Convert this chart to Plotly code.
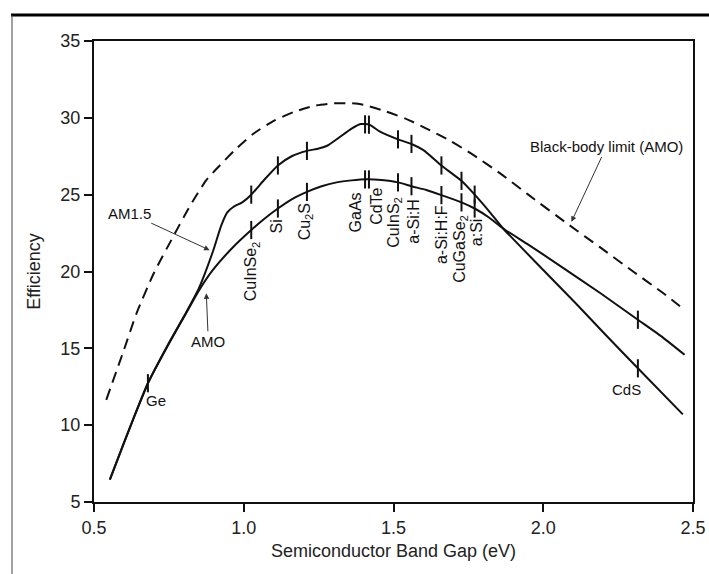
import numpy as np
import plotly.graph_objects as go

# Efficiency vs. band gap, AM1.5 spectrum
am15_gap = [0.553, 0.60, 0.63, 0.68, 0.75, 0.808, 0.85, 0.897, 0.925, 0.945, 0.965,
            0.995, 1.025, 1.07, 1.114, 1.16, 1.211, 1.25, 1.28, 1.36, 1.39, 1.42,
            1.455, 1.515, 1.56, 1.60, 1.66, 1.727, 1.771, 1.82, 1.866, 2.0, 2.11,
            2.2, 2.316, 2.466]
am15_eff = [6.45, 8.85, 10.35, 12.73, 15.35, 17.35, 18.9, 21.3, 23.0, 23.85, 24.2,
            24.5, 25.0, 26.0, 26.9, 27.5, 27.85, 28.0, 28.2, 29.3, 29.6, 29.55,
            29.1, 28.6, 28.3, 27.9, 26.9, 25.9, 25.0, 23.9, 22.8, 20.1, 17.9,
            16.05, 13.7, 10.7]

# Efficiency vs. band gap, AM0 spectrum
am0_gap = [0.553, 0.60, 0.63, 0.68, 0.75, 0.808, 0.85, 0.897, 0.96, 1.025, 1.07,
           1.114, 1.16, 1.211, 1.26, 1.31, 1.36, 1.41, 1.46, 1.515, 1.56, 1.61,
           1.66, 1.727, 1.771, 1.82, 1.866, 1.95, 2.05, 2.19, 2.316, 2.40, 2.472]
am0_eff = [6.45, 8.85, 10.35, 12.73, 15.3, 17.3, 18.75, 20.1, 21.5, 22.7, 23.45,
           24.1, 24.7, 25.18, 25.55, 25.8, 25.93, 26.0, 25.95, 25.8, 25.55, 25.3,
           24.97, 24.5, 24.1, 23.5, 22.8, 21.75, 20.45, 18.6, 16.86, 15.7, 14.58]

# Black-body limit (AM0)
bb_gap = [0.541, 0.60, 0.642, 0.70, 0.764, 0.82, 0.875, 0.92, 0.97, 1.031, 1.10,
          1.17, 1.24, 1.30, 1.36, 1.40, 1.47, 1.54, 1.61, 1.69, 1.765, 1.855,
          1.95, 2.088, 2.188, 2.30, 2.40, 2.472]
bb_eff = [11.65, 14.9, 17.28, 19.9, 22.26, 24.25, 25.94, 26.9, 27.9, 28.95, 29.8,
          30.4, 30.8, 30.94, 30.95, 30.85, 30.45, 29.95, 29.3, 28.5, 27.6, 26.4,
          25.0, 23.0, 21.6, 20.0, 18.6, 17.5]

# Semiconductor materials and their band gaps (eV)
materials = ["Ge", "CuInSe<sub>2</sub>", "Si", "Cu<sub>2</sub>S", "GaAs", "CdTe",
             "CuInS<sub>2</sub>", "a-Si:H", "a-Si:H:F", "CuGaSe<sub>2</sub>", "a:Si", "CdS"]
material_gap = [0.68, 1.025, 1.114, 1.211, 1.405, 1.418, 1.515, 1.56, 1.66, 1.727, 1.771, 2.316]

x_ticks = [0.5, 1.0, 1.5, 2.0, 2.5]
x_tick_text = ["0.5", "1.0", "1.5", "2.0", "2.5"]
y_ticks = [5, 10, 15, 20, 25, 30, 35]

# ---- page geometry ----
W, H = 709, 574
M = dict(l=94, r=16, t=41, b=72)
PW, PH = W - M["l"] - M["r"], H - M["t"] - M["b"]


def paper_x(px):
    return (px - M["l"]) / PW


def paper_y(py):
    return (H - M["b"] - py) / PH


FONT = "Liberation Sans, Arial, Helvetica, sans-serif"
INK = "#111111"

fig = go.Figure()

fig.add_trace(go.Scatter(x=bb_gap, y=bb_eff, mode="lines",
                         line=dict(color=INK, width=2, dash="11px,7px", shape="spline", smoothing=0.6)))
fig.add_trace(go.Scatter(x=am15_gap, y=am15_eff, mode="lines",
                         line=dict(color=INK, width=2, shape="spline", smoothing=0.5)))
fig.add_trace(go.Scatter(x=am0_gap, y=am0_eff, mode="lines",
                         line=dict(color=INK, width=2, shape="spline", smoothing=0.5)))

# tick marks where each material sits on the curves
gap_arr = np.array(material_gap)
upper_gap = gap_arr[1:]
upper_eff = np.interp(upper_gap, am15_gap, am15_eff)
lower_eff_all = np.interp(gap_arr, am0_gap, am0_eff)

tick_marker = dict(symbol="line-ns", size=13, color=INK, line=dict(color=INK, width=2))
fig.add_trace(go.Scatter(x=upper_gap, y=upper_eff, mode="markers", marker=tick_marker))
fig.add_trace(go.Scatter(x=gap_arr, y=lower_eff_all, mode="markers", marker=tick_marker))

annotations = []

# vertical material labels hanging below the AM0 tick marks
label_shift = {
    "CuInSe<sub>2</sub>": (0, -9),
    "Si": (-1, -9),
    "Cu<sub>2</sub>S": (-2, -9),
    "GaAs": (-10, -11),
    "CdTe": (8, -6),
    "CuInS<sub>2</sub>": (-3, -12),
    "a-Si:H": (2, -11),
    "a-Si:H:F": (0, -8),
    "CuGaSe<sub>2</sub>": (-1, -10),
    "a:Si": (2, -8),
}
for name, g, e in zip(materials, material_gap, lower_eff_all):
    if name in label_shift:
        dx, dy = label_shift[name]
        annotations.append(dict(x=g, y=e, xref="x", yref="y", text=name, textangle=-90,
                                showarrow=False, xanchor="center", yanchor="top",
                                xshift=dx, yshift=dy,
                                font=dict(family=FONT, size=16, color=INK)))

# Ge label beside the merged curves, CdS label under the AM1.5 tick
ge_eff = float(np.interp(material_gap[0], am0_gap, am0_eff))
annotations.append(dict(x=material_gap[0], y=ge_eff, text="Ge", showarrow=False,
                        xanchor="left", yanchor="middle", xshift=-4, yshift=-17,
                        font=dict(family=FONT, size=15, color=INK)))
cds_eff = float(np.interp(material_gap[-1], am15_gap, am15_eff))
annotations.append(dict(x=material_gap[-1], y=cds_eff, text="CdS", showarrow=False,
                        xanchor="center", yanchor="middle", xshift=-11, yshift=-21,
                        font=dict(family=FONT, size=15, color=INK)))

# curve captions with pointer arrows
arrow_style = dict(showarrow=True, arrowhead=2, arrowsize=1.1, arrowwidth=1,
                   arrowcolor="#333333", font=dict(family=FONT, size=15, color=INK))
annotations.append(dict(x=0.886, y=21.39, text="AM1.5", ax=-80, ay=-37, **arrow_style))
annotations.append(dict(x=0.875, y=18.58, text="AMO", ax=2, ay=48, **arrow_style))
annotations.append(dict(x=2.094, y=23.23, text="Black-body limit (AMO)", ax=35, ay=-75,
                        **arrow_style))

# page frame: heavy rule across the top, thin rule down the left side
shapes = [
    dict(type="line", xref="paper", yref="paper",
         x0=paper_x(11), x1=paper_x(W), y0=paper_y(15), y1=paper_y(15),
         line=dict(color="#000000", width=3)),
    dict(type="line", xref="paper", yref="paper",
         x0=paper_x(12), x1=paper_x(12), y0=paper_y(15), y1=paper_y(H),
         line=dict(color="#444444", width=1)),
]

axis_common = dict(showline=True, linecolor=INK, linewidth=2, mirror=True,
                   ticks="outside", ticklen=8, tickwidth=2, tickcolor=INK,
                   showgrid=False, zeroline=False, automargin=False,
                   tickfont=dict(family=FONT, size=18, color="#222222"))

fig.update_layout(
    width=W, height=H, margin=M,
    paper_bgcolor="white", plot_bgcolor="white",
    showlegend=False,
    xaxis=dict(range=[0.5, 2.5], tickvals=x_ticks, ticktext=x_tick_text,
               title=dict(text="Semiconductor Band Gap (eV)", standoff=8,
                          font=dict(family=FONT, size=18, color="#222222")),
               **axis_common),
    yaxis=dict(range=[5, 35], tickvals=y_ticks,
               title=dict(text="Efficiency", standoff=15,
                          font=dict(family=FONT, size=18, color="#222222")),
               **axis_common),
    annotations=annotations,
    shapes=shapes,
)

fig.write_html("out.html", config={"displayModeBar": False},
               post_script="document.body.style.margin='0';document.body.style.overflow='hidden';")
